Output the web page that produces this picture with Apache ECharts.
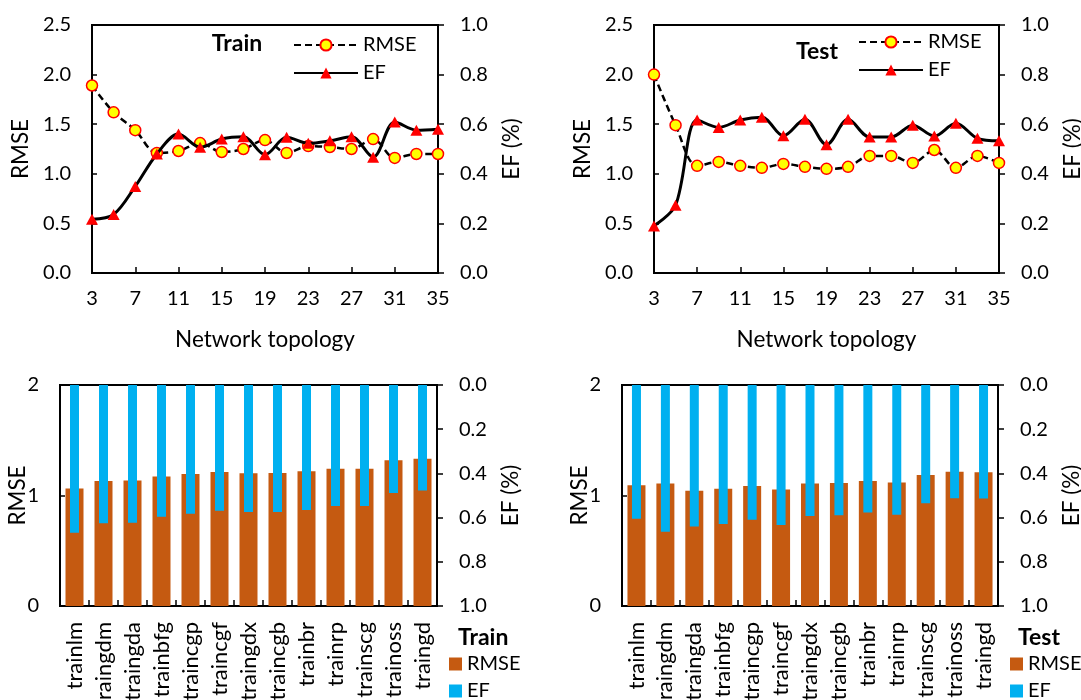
<!DOCTYPE html>
<html>
<head>
<meta charset="utf-8">
<script src="https://cdn.jsdelivr.net/npm/echarts@6/dist/echarts.min.js"></script>
<style>
  html, body { margin: 0; padding: 0; background: #fff; }
  #chart { width: 1081px; height: 700px; }
</style>
</head>
<body>
<div id="chart"></div>
<script>
// Network topology (number of hidden neurons) for the line panels
const topology = ['3', '5', '7', '9', '11', '13', '15', '17', '19', '21', '23', '25', '27', '29', '31', '33', '35'];
const trainRmse = [1.89, 1.62, 1.44, 1.21, 1.23, 1.31, 1.22, 1.25, 1.34, 1.21, 1.28, 1.27, 1.25, 1.35, 1.16, 1.20, 1.20];
const trainEf = [0.217, 0.236, 0.349, 0.48, 0.56, 0.507, 0.54, 0.549, 0.477, 0.547, 0.523, 0.533, 0.549, 0.467, 0.609, 0.576, 0.58];
const testRmse = [2.00, 1.49, 1.08, 1.12, 1.08, 1.06, 1.10, 1.07, 1.05, 1.07, 1.18, 1.18, 1.11, 1.24, 1.06, 1.18, 1.11];
const testEf = [0.19, 0.273, 0.617, 0.587, 0.617, 0.628, 0.553, 0.62, 0.517, 0.62, 0.548, 0.548, 0.596, 0.552, 0.604, 0.543, 0.533];

// Training algorithms for the bar panels
const algorithms = ['trainlm', 'traingdm', 'traingda', 'trainbfg', 'traincgp', 'traincgf', 'traingdx', 'traincgb', 'trainbr', 'trainrp', 'trainscg', 'trainoss', 'traingd'];
const trainAlgoRmse = [1.063, 1.132, 1.135, 1.171, 1.195, 1.213, 1.201, 1.204, 1.219, 1.243, 1.243, 1.318, 1.333];
const trainAlgoEf = [0.668, 0.625, 0.623, 0.596, 0.583, 0.569, 0.575, 0.575, 0.566, 0.547, 0.548, 0.489, 0.477];
const testAlgoRmse = [1.093, 1.108, 1.042, 1.060, 1.087, 1.054, 1.108, 1.114, 1.132, 1.117, 1.186, 1.216, 1.210];
const testAlgoEf = [0.605, 0.664, 0.640, 0.629, 0.610, 0.634, 0.593, 0.589, 0.577, 0.587, 0.535, 0.512, 0.514];

const FONT = 'Lato, "Open Sans", sans-serif';
const TICK_SIZE = 20;
const NAME_SIZE = 22.5;
const ORANGE = '#C55A11';
const BLUE = '#00B0F0';

const axisLine = { show: true, onZero: false, lineStyle: { color: '#000', width: 2 } };
const tickLabel = (margin, fmt) => ({ color: '#000', fontSize: TICK_SIZE, fontFamily: FONT, margin: margin, formatter: fmt });
const nameText = { color: '#000', fontSize: NAME_SIZE, fontFamily: FONT };
const fixed1 = v => v.toFixed(1);

function lineX(grid) {
  return {
    type: 'category', gridIndex: grid, data: topology, boundaryGap: false,
    axisLine: axisLine,
    axisTick: { show: true, inside: true, length: 6, interval: 1, lineStyle: { color: '#000', width: 1.5 } },
    axisLabel: Object.assign(tickLabel(16), { interval: 1 }),
    name: 'Network topology', nameLocation: 'middle', nameGap: 55, nameMoveOverlap: false, nameTextStyle: nameText
  };
}
function barX(grid, visible) {
  return {
    type: 'category', gridIndex: grid, data: algorithms, boundaryGap: true, show: visible,
    axisLine: axisLine,
    axisTick: { show: true, inside: true, length: 6, lineStyle: { color: '#000', width: 1.5 } },
    axisLabel: Object.assign(tickLabel(16), { rotate: 90, interval: 0, fontSize: 22 })
  };
}
function leftY(grid, max, interval, fmt, gap) {
  return {
    type: 'value', gridIndex: grid, position: 'left', min: 0, max: max, interval: interval,
    axisLine: axisLine, splitLine: { show: false },
    axisTick: { show: true, inside: true, length: 5, lineStyle: { color: '#000', width: 1.5 } },
    axisLabel: tickLabel(21, fmt),
    name: 'RMSE', nameLocation: 'middle', nameRotate: 90, nameGap: gap, nameMoveOverlap: false, nameTextStyle: nameText
  };
}
function rightY(grid, inverse, gap) {
  return {
    type: 'value', gridIndex: grid, position: 'right', min: 0, max: 1, interval: 0.2, inverse: inverse,
    axisLine: axisLine, splitLine: { show: false },
    axisTick: { show: true, inside: false, length: 6, lineStyle: { color: '#000', width: 1.5 } },
    axisLabel: tickLabel(22, fixed1),
    name: 'EF (%)', nameLocation: 'middle', nameRotate: 90, nameGap: gap, nameMoveOverlap: false, nameTextStyle: nameText
  };
}

function rmseLine(x, y, data) {
  return {
    name: 'RMSE', type: 'line', xAxisIndex: x, yAxisIndex: y, data: data,
    smooth: 0.33, symbol: 'circle', symbolSize: 11,
    lineStyle: { color: '#000', width: 2.5, type: [7, 4] },
    itemStyle: { color: '#FFFF00', borderColor: '#FF0000', borderWidth: 1.5 },
    emphasis: { disabled: true }, z: 3
  };
}
function efLine(x, y, data) {
  return {
    name: 'EF', type: 'line', xAxisIndex: x, yAxisIndex: y, data: data,
    smooth: 0.33, symbol: 'triangle', symbolSize: [12, 11],
    lineStyle: { color: '#000', width: 3 },
    itemStyle: { color: '#FF0000' },
    emphasis: { disabled: true }, z: 4
  };
}
function rmseBar(x, y, data) {
  return {
    name: 'RMSE ', type: 'bar', xAxisIndex: x, yAxisIndex: y, data: data,
    barWidth: 18, itemStyle: { color: ORANGE }, emphasis: { disabled: true }, z: 2
  };
}
function efBar(x, y, data) {
  return {
    name: 'EF ', type: 'bar', xAxisIndex: x, yAxisIndex: y, data: data,
    barWidth: 9, itemStyle: { color: BLUE }, emphasis: { disabled: true }, z: 3
  };
}

const legendText = { color: '#000', fontSize: 20, fontFamily: FONT, lineHeight: 20 };
function lineLegend(left, top) {
  return {
    data: ['RMSE', 'EF'], orient: 'vertical', left: left, top: top,
    itemWidth: 64, itemHeight: 14, itemGap: 8, padding: 0,
    selectedMode: false, textStyle: legendText
  };
}
// one swatch per legend so each entry sits on its own row
function barLegend(name, left, top) {
  return {
    data: [name], left: left, top: top, icon: 'rect',
    itemWidth: 13, itemHeight: 13, padding: 0,
    selectedMode: false, textStyle: legendText
  };
}
function heading(text, x, y, align) {
  return {
    type: 'text', x: x, y: y, silent: true,
    style: { text: text, fontSize: 23, fontWeight: 'bold', fontFamily: FONT, fill: '#000', align: align, verticalAlign: 'middle' }
  };
}

const gridBox = { show: true, borderColor: '#000', borderWidth: 2, backgroundColor: 'transparent', containLabel: false, outerBoundsMode: 'none' };

const option = {
  animation: false,
  backgroundColor: '#fff',
  grid: [
    Object.assign({ left: 92, top: 25, width: 346, height: 248 }, gridBox),
    Object.assign({ left: 654, top: 25, width: 345, height: 248 }, gridBox),
    Object.assign({ left: 60, top: 385, width: 377, height: 221 }, gridBox),
    Object.assign({ left: 622, top: 385, width: 376, height: 221 }, gridBox)
  ],
  xAxis: [
    lineX(0), lineX(1),
    barX(2, true), barX(2, false),
    barX(3, true), barX(3, false)
  ],
  yAxis: [
    leftY(0, 2.5, 0.5, fixed1, 60), rightY(0, false, 62),
    leftY(1, 2.5, 0.5, fixed1, 60), rightY(1, false, 62),
    leftY(2, 2, 1, v => String(v), 31), rightY(2, true, 62),
    leftY(3, 2, 1, v => String(v), 31), rightY(3, true, 62)
  ],
  legend: [
    lineLegend(293, 35),
    lineLegend(858, 32),
    barLegend('RMSE ', 449, 654), barLegend('EF ', 449, 681),
    barLegend('RMSE ', 1010, 654), barLegend('EF ', 1010, 681)
  ],
  graphic: [
    heading('Train', 237, 44, 'center'),
    heading('Test', 817, 52, 'center'),
    heading('Train', 458, 638, 'left'),
    heading('Test', 1018, 638, 'left')
  ],
  series: [
    rmseLine(0, 0, trainRmse), efLine(0, 1, trainEf),
    rmseLine(1, 2, testRmse), efLine(1, 3, testEf),
    rmseBar(2, 4, trainAlgoRmse), efBar(3, 5, trainAlgoEf),
    rmseBar(4, 6, testAlgoRmse), efBar(5, 7, testAlgoEf)
  ]
};

const chart = echarts.init(document.getElementById('chart'), null, { renderer: 'canvas' });
chart.setOption(option);
</script>
</body>
</html>
